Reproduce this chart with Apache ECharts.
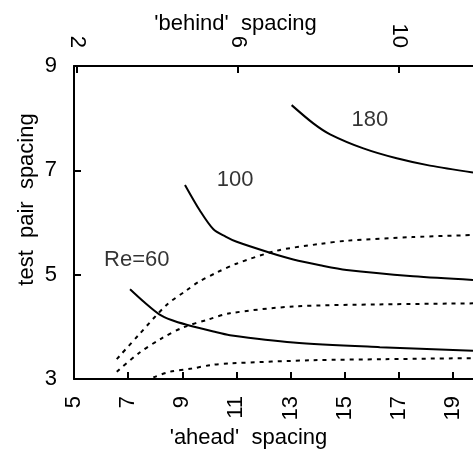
<!DOCTYPE html>
<html>
<head>
<meta charset="utf-8">
<script src="https://cdn.jsdelivr.net/npm/echarts@6/dist/echarts.min.js"></script>
<style>html,body{margin:0;padding:0;background:#fff;}#c{width:473px;height:453px;}</style>
</head>
<body>
<div id="c"></div>
<script>
// ---- data ----
const aheadTicks = [5, 7, 9, 11, 13, 15, 17, 19];
const behindTicks = [2, 6, 10];
const spacingTicks = [3, 5, 7, 9];

// solid curves (ahead spacing, test pair spacing)
const re60X  = [7.07, 7.6, 8.15, 8.6, 9.16, 10.15, 10.76, 13.1, 16.3, 19.74];
const re60Y  = [4.72, 4.47, 4.24, 4.13, 4.04, 3.91, 3.84, 3.70, 3.61, 3.54];
const re100X = [9.10, 9.65, 10.15, 10.6, 11.01, 12.24, 13.1, 14.09, 15.07, 17.53, 19.74];
const re100Y = [6.72, 6.23, 5.87, 5.73, 5.63, 5.42, 5.29, 5.18, 5.09, 4.97, 4.90];
const re180X = [13.04, 13.84, 14.46, 15.69, 16.92, 18.15, 19.74];
const re180Y = [8.25, 7.90, 7.69, 7.42, 7.23, 7.09, 6.96];

// dotted curves
const dotUpX = [6.58, 7.38, 8.42, 9.16, 9.6, 10.27, 11.0, 12.5, 14.09, 15.07, 17.5, 19.74];
const dotUpY = [3.38, 3.84, 4.42, 4.70, 4.86, 5.04, 5.21, 5.46, 5.59, 5.65, 5.72, 5.76];
const dotMidX = [6.58, 7.38, 8.24, 9.04, 9.96, 10.76, 13.1, 16.3, 19.74];
const dotMidY = [3.14, 3.49, 3.78, 3.99, 4.14, 4.26, 4.39, 4.43, 4.45];
const dotLowX = [7.93, 8.55, 9.35, 10.09, 10.76, 13.84, 16.5, 19.74];
const dotLowY = [3.03, 3.14, 3.20, 3.27, 3.30, 3.36, 3.38, 3.40];

// curve annotations
const noteText = ['Re=60', '100', '180'];
const noteX = [7.32, 10.95, 15.93];
const noteY = [5.28, 6.81, 7.96];

// ---- build ----
const zip = (xs, ys) => xs.map((x, i) => [x, ys[i]]);
const FONT = 'Liberation Sans, Arial, Helvetica, sans-serif';
const axisLine = { show: true, lineStyle: { color: '#000', width: 2 } };
const tickLine = { color: '#000', width: 2 };

function curve(xs, ys, dash) {
  return { type: 'line', data: zip(xs, ys), showSymbol: false, symbol: 'none',
    smooth: 0.3,
    lineStyle: { color: '#000', width: 2, type: dash ? [4, 5] : 'solid' },
    xAxisIndex: 0, yAxisIndex: 0, silent: true };
}

const chart = echarts.init(document.getElementById('c'), null, { renderer: 'canvas' });
chart.setOption({
  animation: false,
  backgroundColor: '#fff',
  textStyle: { fontFamily: FONT },
  grid: { left: 74, right: 0, top: 66, bottom: 74, containLabel: false, outerBoundsMode: 'none' },
  xAxis: [
    {
      type: 'value', position: 'bottom', min: 5, max: 19.74,
      name: "'ahead'  spacing", nameLocation: 'middle', nameGap: 48, nameMoveOverlap: false,
      nameTextStyle: { color: '#000', fontSize: 22, fontFamily: FONT, padding: [0, 50, 0, 0] },
      axisLine: axisLine,
      axisTick: { show: true, inside: true, length: 7, customValues: aheadTicks, lineStyle: tickLine },
      axisLabel: { show: true, rotate: 90, margin: 17, color: '#000', fontSize: 22, fontFamily: FONT, customValues: aheadTicks },
      splitLine: { show: false }
    },
    {
      type: 'value', position: 'top', min: 1.933, max: 11.85,
      name: "'behind'  spacing", nameLocation: 'middle', nameGap: 31, nameMoveOverlap: false,
      nameTextStyle: { color: '#000', fontSize: 22, fontFamily: FONT, padding: [0, 76, 0, 0] },
      axisLine: axisLine,
      axisTick: { show: true, inside: true, length: 7, customValues: behindTicks, lineStyle: tickLine },
      axisLabel: { show: true, rotate: 90, margin: 18, color: '#000', fontSize: 22, fontFamily: FONT, customValues: behindTicks },
      splitLine: { show: false }
    }
  ],
  yAxis: {
    type: 'value', min: 3, max: 9, interval: 2,
    name: 'test  pair  spacing', nameLocation: 'middle', nameGap: 36, nameMoveOverlap: false,
    nameTextStyle: { color: '#000', fontSize: 22, fontFamily: FONT, padding: [0, 0, 0, 46] },
    axisLine: axisLine,
    axisTick: { show: true, inside: true, length: 7, customValues: spacingTicks, lineStyle: tickLine },
    axisLabel: { show: true, margin: 17, color: '#000', fontSize: 22, fontFamily: FONT, customValues: spacingTicks },
    splitLine: { show: false }
  },
  series: [
    curve(re60X, re60Y, false),
    curve(re100X, re100Y, false),
    curve(re180X, re180Y, false),
    curve(dotUpX, dotUpY, true),
    curve(dotMidX, dotMidY, true),
    curve(dotLowX, dotLowY, true),
    {
      type: 'scatter', xAxisIndex: 0, yAxisIndex: 0, silent: true,
      symbol: 'circle', symbolSize: 0, itemStyle: { color: '#000' },
      data: noteText.map((t, i) => ({ value: [noteX[i], noteY[i]], name: t })),
      label: { show: true, position: [0, 0], align: 'center', verticalAlign: 'middle',
        formatter: p => p.name, color: '#000', textBorderWidth: 0, fontSize: 22, fontFamily: FONT }
    }
  ]
});
</script>
</body>
</html>
